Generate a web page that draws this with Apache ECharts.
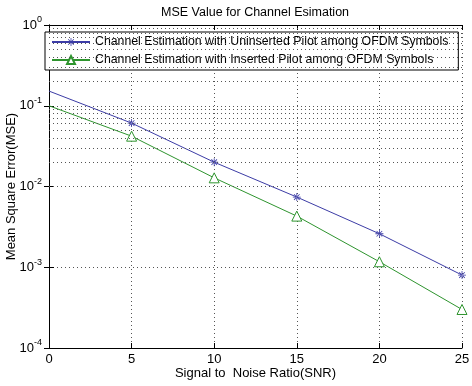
<!DOCTYPE html>
<html>
<head>
<meta charset="utf-8">
<script src="https://cdn.jsdelivr.net/npm/echarts@6/dist/echarts.min.js"></script>
<style>
html,body{margin:0;padding:0;background:#fff;}
#main{width:472px;height:386px;}
</style>
</head>
<body>
<div id="main"></div>
<script>
// data
var snr = [0, 5, 10, 15, 20, 25];
var mseUninserted = [0.152, 0.061, 0.020, 0.0074, 0.0026, 0.00080];
var mseInserted = [0.100, 0.042, 0.0128, 0.0043, 0.00117, 0.00030];
var xTicks = [0, 5, 10, 15, 20, 25];
var seriesNames = ['Channel Estimation with Uninserted Pilot among OFDM Symbols',
                   'Channel Estimation with Inserted Pilot among OFDM Symbols'];

var FONT = 'Liberation Sans';
var asterisk = 'path://M-1,-10 L1,-10 L1,10 L-1,10 Z M-10,-1 L10,-1 L10,1 L-10,1 Z ' +
	'M-7.7,-6.3 L6.3,7.7 L7.7,6.3 L-6.3,-7.7 Z M-6.3,7.7 L7.7,-6.3 L6.3,-7.7 L-7.7,6.3 Z';

//组合点数据，第一点无标记
function buildData(xs, ys){
	var arr = [];
	for(var i=0;i<xs.length;i++){
		var item = {value:[xs[i], ys[i]]};
		if(i==0){
			item.symbol = 'none';
		}
		arr.push(item);
	}
	return arr;
}

//对数坐标的次网格线 (2..9 x 10^k)
var minorLines = [];
for(var k=-4;k<0;k++){
	for(var m=2;m<10;m++){
		minorLines.push({yAxis: m*Math.pow(10,k)});
	}
}

var dotted = {color:'#555', width:1, type:[1,3]};

var myChart = echarts.init(document.getElementById('main'));
var option = {
	animation: false,
	backgroundColor: '#fff',
	title: {
		text: 'MSE Value for Channel Esimation',
		left: 161,
		top: 6,
		padding: 0,
		textStyle: {fontFamily: FONT, fontSize: 12.5, fontWeight: 'normal', color: '#000'}
	},
	legend: {
		orient: 'vertical',
		left: 45,
		top: 32,
		padding: [4, 10, 4, 6],
		itemGap: 6,
		itemWidth: 38,
		itemHeight: 10,
		backgroundColor: '#fff',
		borderColor: '#000',
		borderWidth: 1,
		textStyle: {fontFamily: FONT, fontSize: 12.3, color: '#000'},
		data: seriesNames
	},
	grid: {left: 49, right: 10, top: 25, bottom: 38, outerBoundsMode: 'none', containLabel: false},
	xAxis: [{
		type: 'value',
		min: 0,
		max: 25,
		interval: 5,
		name: 'Signal to  Noise Ratio(SNR)',
		nameLocation: 'middle',
		nameGap: 19,
		nameMoveOverlap: false,
		nameTextStyle: {fontFamily: FONT, fontSize: 13, color: '#000'},
		axisLine: {lineStyle: {color: '#000'}},
		axisTick: {inside: true, length: 5, lineStyle: {color: '#000'}},
		axisLabel: {fontFamily: FONT, fontSize: 13, color: '#000', margin: 5},
		splitLine: {show: true, lineStyle: dotted}
	}, {
		type: 'value',
		position: 'top',
		min: 0,
		max: 25,
		interval: 5,
		axisLine: {show: true, lineStyle: {color: '#000'}},
		axisTick: {show: true, inside: true, length: 5, lineStyle: {color: '#000'}},
		axisLabel: {show: false},
		splitLine: {show: false}
	}],
	yAxis: [{
		type: 'log',
		logBase: 10,
		min: 0.0001,
		max: 1,
		name: 'Mean Square Error(MSE)',
		nameLocation: 'middle',
		nameGap: 31,
		nameMoveOverlap: false,
		nameTextStyle: {fontFamily: FONT, fontSize: 13, color: '#000'},
		axisLine: {show: true, lineStyle: {color: '#000'}},
		axisTick: {show: true, inside: true, length: 5, lineStyle: {color: '#000'}},
		axisLabel: {
			margin: 7,
			formatter: function(v){
				return '{b|10}{s|' + Math.round(Math.log10(v)) + '}';
			},
			rich: {
				b: {fontFamily: FONT, fontSize: 13, color: '#000'},
				s: {fontFamily: FONT, fontSize: 9, color: '#000', verticalAlign: 'bottom', padding: [0, 0, 10, 0]}
			}
		},
		splitLine: {show: true, lineStyle: dotted}
	}, {
		type: 'log',
		logBase: 10,
		min: 0.0001,
		max: 1,
		position: 'right',
		axisLine: {show: true, lineStyle: {color: '#000'}},
		axisTick: {show: true, inside: true, length: 5, lineStyle: {color: '#000'}},
		axisLabel: {show: false},
		splitLine: {show: false}
	}],
	series: [{
		name: seriesNames[0],
		type: 'line',
		xAxisIndex: 0,
		yAxisIndex: 0,
		symbol: asterisk,
		symbolSize: 8,
		showAllSymbol: true,
		lineStyle: {color: '#3c3ca6', width: 1},
		itemStyle: {color: '#3c3ca6'},
		data: buildData(snr, mseUninserted),
		markLine: {
			silent: true,
			symbol: 'none',
			label: {show: false},
			lineStyle: dotted,
			data: minorLines
		},
		z: 3
	}, {
		name: seriesNames[1],
		type: 'line',
		xAxisIndex: 0,
		yAxisIndex: 0,
		symbol: 'triangle',
		symbolSize: 10,
		showAllSymbol: true,
		lineStyle: {color: '#2e942e', width: 1},
		itemStyle: {color: '#fff', borderColor: '#2e942e', borderWidth: 1},
		data: buildData(snr, mseInserted),
		z: 3
	}]
};
myChart.setOption(option);
</script>
</body>
</html>
